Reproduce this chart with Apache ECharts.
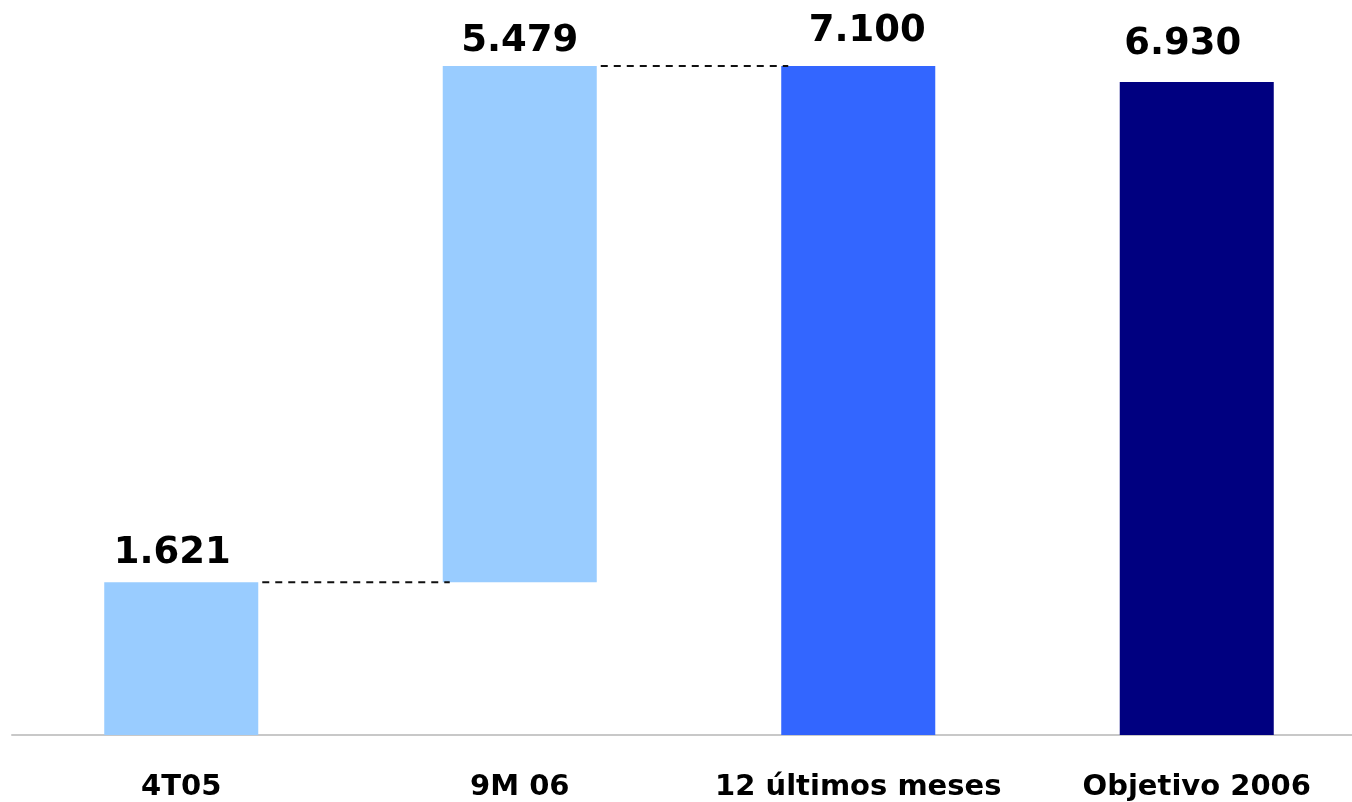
<!DOCTYPE html>
<html>
<head>
<meta charset="utf-8">
<script src="https://cdn.jsdelivr.net/npm/echarts@6/dist/echarts.min.js"></script>
<style>
  html, body { margin: 0; padding: 0; background: #fff; overflow: hidden; }
  #chart { width: 1366px; height: 802px; }
</style>
</head>
<body>
<div id="chart"></div>
<script>
// Waterfall: quarter result, year-to-date increment, trailing twelve months, annual target
const categories = ['4T05', '9M 06', '12 últimos meses', 'Objetivo 2006'];
const baseValues = [0, 1621, 0, 0];          // invisible offset under each bar
const barValues = [1621, 5479, 7100, 6930];  // visible bar heights (label values)
const barColors = ['#99CCFF', '#99CCFF', '#3366FF', '#000080'];

// Value label placement: [horizontal nudge, distance above bar]
const labelPlacement = [[-9, 10], [0, 6], [9, 16], [-14, 19]];

const BAR_FRACTION = 0.455;

// Dashed connectors: from the top of one step to the start of the next
const connectors = [];
for (let i = 0; i < 2; i++) {
  connectors.push([i, baseValues[i] + barValues[i]]);
}

function fmt(v) {
  return String(v).replace(/\B(?=(\d{3})+(?!\d))/g, '.');
}

const chart = echarts.init(document.getElementById('chart'), null, { renderer: 'canvas' });

chart.setOption({
  animation: false,
  backgroundColor: '#ffffff',
  grid: { left: 12, right: 0, top: 0, bottom: 63, containLabel: false },
  xAxis: {
    type: 'category',
    data: categories,
    axisLine: { show: true, lineStyle: { color: '#C8C8C8', width: 2 } },
    axisTick: { show: false },
    axisLabel: {
      interval: 0,
      margin: 38,
      color: '#000',
      fontFamily: '"DejaVu Sans", sans-serif',
      fontWeight: 'bold',
      fontSize: 29
    }
  },
  yAxis: {
    type: 'value',
    min: 0,
    max: 7800,
    show: false,
    splitLine: { show: false }
  },
  series: [
    {
      type: 'bar',
      stack: 'w',
      barWidth: (BAR_FRACTION * 100) + '%',
      itemStyle: { color: 'transparent' },
      emphasis: { disabled: true },
      data: baseValues
    },
    {
      type: 'bar',
      stack: 'w',
      barWidth: (BAR_FRACTION * 100) + '%',
      data: barValues.map((v, i) => ({
        value: v,
        itemStyle: { color: barColors[i] },
        label: { offset: [labelPlacement[i][0], 0], distance: labelPlacement[i][1] }
      })),
      label: {
        show: true,
        position: 'top',
        color: '#000',
        fontFamily: '"DejaVu Sans", sans-serif',
        fontWeight: 'bold',
        fontSize: 37,
        formatter: p => fmt(p.value)
      }
    },
    {
      type: 'custom',
      z: 5,
      data: connectors,
      renderItem: function (params, api) {
        const i = api.value(0);
        const v = api.value(1);
        const p0 = api.coord([i, v]);
        const p1 = api.coord([i + 1, v]);
        const half = api.size([1, 0])[0] * BAR_FRACTION / 2;
        return {
          type: 'line',
          shape: { x1: p0[0] + half + 4, y1: p0[1], x2: p1[0] - half + 7, y2: p1[1] },
          style: { stroke: '#111', lineWidth: 2, lineDash: [7, 6] }
        };
      }
    }
  ]
});
</script>
</body>
</html>
